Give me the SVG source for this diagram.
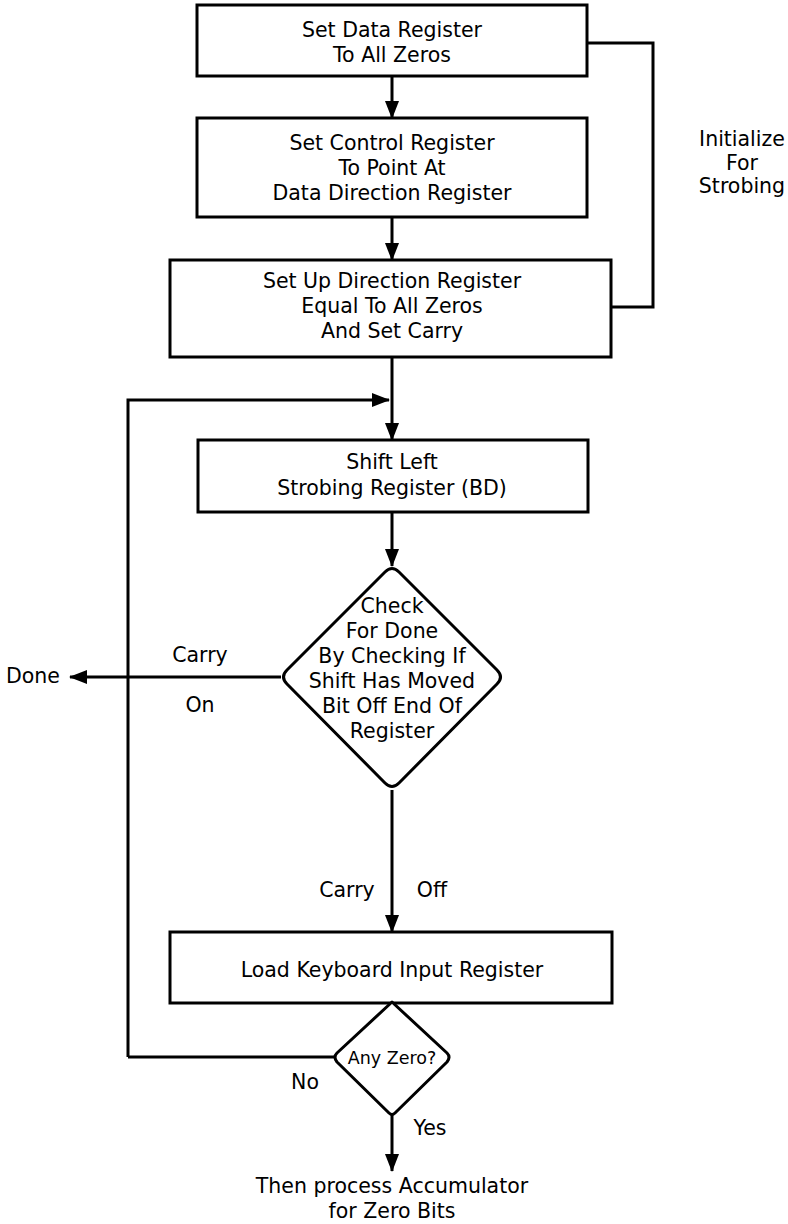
<svg xmlns="http://www.w3.org/2000/svg" width="788" height="1224" viewBox="0 0 788 1224">
<style>
.box{fill:#fff;stroke:#000;stroke-width:3}
.dia{fill:#fff;stroke:#000;stroke-width:3;stroke-linejoin:round}
.ln{fill:none;stroke:#000;stroke-width:3}
text{font-family:"DejaVu Sans","Liberation Sans",sans-serif;font-size:20.5px;fill:#000;text-anchor:middle}
.sm{font-size:17.5px}
</style>
<defs>
<marker id="ah" markerWidth="18" markerHeight="14" refX="17" refY="7" orient="auto" markerUnits="userSpaceOnUse" viewBox="0 0 18 14">
<path d="M0,0 L18,7 L0,14 Z" fill="#000"/>
</marker>
</defs>
<g id="connectors">
<path class="ln" d="M392,76 V118" marker-end="url(#ah)"/>
<path class="ln" d="M392,217 V260" marker-end="url(#ah)"/>
<path class="ln" d="M587,43 H653 V307 H611"/>
<path class="ln" d="M392,357 V440" marker-end="url(#ah)"/>
<path class="ln" d="M128,1057 V400 H389" marker-end="url(#ah)"/>
<path class="ln" d="M392,512 V566" marker-end="url(#ah)"/>
<path class="ln" d="M281,677 H70" marker-end="url(#ah)"/>
<path class="ln" d="M392,790 V932" marker-end="url(#ah)"/>
<path class="ln" d="M128,1057 H335"/>
<path class="ln" d="M392,1115 V1171" marker-end="url(#ah)"/>
</g>
<g id="n1">
<rect class="box" x="197" y="5" width="390" height="71"/>
<text x="392" y="37">Set Data Register</text>
<text x="392" y="62">To All Zeros</text>
</g>
<g id="n2">
<rect class="box" x="197" y="118" width="390" height="99"/>
<text x="392" y="150">Set Control Register</text>
<text x="392" y="175">To Point At</text>
<text x="392" y="200">Data Direction Register</text>
</g>
<g id="n3">
<rect class="box" x="170" y="260" width="441" height="97"/>
<text x="392" y="288">Set Up Direction Register</text>
<text x="392" y="313">Equal To All Zeros</text>
<text x="392" y="338">And Set Carry</text>
</g>
<g id="lbl-init">
<text x="742" y="146">Initialize</text>
<text x="742" y="170">For</text>
<text x="742" y="193">Strobing</text>
</g>
<g id="n4">
<rect class="box" x="198" y="440" width="390" height="72"/>
<text x="392" y="469">Shift Left</text>
<text x="392" y="495">Strobing Register (BD)</text>
</g>
<g id="n5">
<path class="dia" d="M385,572 Q392,565 399,572 L497,670 Q504,677 497,684 L399,783 Q392,790 385,783 L287,684 Q280,677 287,670 Z"/>
<text x="392" y="613">Check</text>
<text x="392" y="638">For Done</text>
<text x="392" y="663">By Checking If</text>
<text x="392" y="688">Shift Has Moved</text>
<text x="392" y="713">Bit Off End Of</text>
<text x="392" y="738">Register</text>
</g>
<g id="lbl-done">
<text x="33" y="683">Done</text>
<text x="200" y="662">Carry</text>
<text x="200" y="712">On</text>
</g>
<g id="lbl-off">
<text x="347" y="897">Carry</text>
<text x="432" y="897">Off</text>
</g>
<g id="n6">
<rect class="box" x="170" y="932" width="442" height="71"/>
<text x="392" y="977">Load Keyboard Input Register</text>
</g>
<g id="n7">
<path class="dia" d="M392,1002 L447,1053 Q451,1057 447,1062 L395,1113 Q392,1116 389,1113 L337,1062 Q333,1057 337,1053 Z"/>
<text class="sm" x="392" y="1064">Any Zero?</text>
</g>
<g id="lbl-yn">
<text x="305" y="1089">No</text>
<text x="430" y="1135">Yes</text>
</g>
<g id="end">
<text x="392" y="1193">Then process Accumulator</text>
<text x="392" y="1218">for Zero Bits</text>
</g>
</svg>
